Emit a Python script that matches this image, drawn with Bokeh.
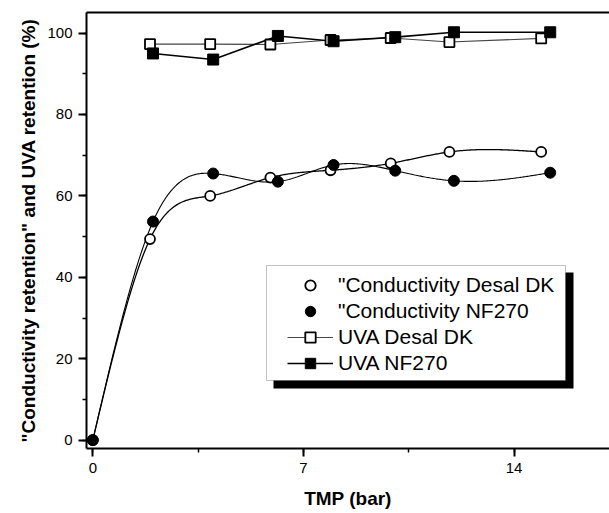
import numpy as np
from bokeh.plotting import figure
from bokeh.models import (Range1d, LinearAxis, SingleIntervalTicker, FixedTicker,
                          Legend, LegendItem, BoxAnnotation)
from bokeh.embed import file_html
from bokeh.resources import INLINE

# ---- data ----
tmp_cond_dk = [0, 1.9, 3.9, 5.9, 7.9, 9.9, 11.85, 14.9]
cond_dk = [0, 49.4, 60.0, 64.5, 66.3, 68.0, 70.8, 70.8]
tmp_cond_nf = [0, 2.0, 4.0, 6.15, 8.0, 10.05, 12.0, 15.2]
cond_nf = [0, 53.7, 65.5, 63.5, 67.6, 66.2, 63.7, 65.7]
tmp_uva_dk = [1.9, 3.9, 5.9, 7.9, 9.9, 11.85, 14.9]
uva_dk = [97.3, 97.3, 97.2, 98.3, 98.8, 97.8, 98.7]
tmp_uva_nf = [2.0, 4.0, 6.15, 8.0, 10.05, 12.0, 15.2]
uva_nf = [95.0, 93.5, 99.3, 98.0, 99.0, 100.2, 100.2]

legend_labels = ['"Conductivity Desal DK', '"Conductivity NF270', "UVA Desal DK", "UVA NF270"]
x_title = "TMP (bar)"
y_title = '"Conductivity retention" and UVA retention (%)'

FONT = "Liberation Sans"


def natural_spline(x, y, n=400):
    """Smooth curve through the data points (natural cubic spline)."""
    x = np.asarray(x, float)
    y = np.asarray(y, float)
    k = len(x)
    h = np.diff(x)
    A = np.zeros((k, k))
    r = np.zeros(k)
    A[0, 0] = 1
    A[-1, -1] = 1
    for i in range(1, k - 1):
        A[i, i - 1] = h[i - 1]
        A[i, i] = 2 * (h[i - 1] + h[i])
        A[i, i + 1] = h[i]
        r[i] = 6 * ((y[i + 1] - y[i]) / h[i] - (y[i] - y[i - 1]) / h[i - 1])
    M = np.linalg.solve(A, r)
    xs = np.linspace(x[0], x[-1], n)
    idx = np.clip(np.searchsorted(x, xs) - 1, 0, k - 2)
    x0 = x[idx]
    x1 = x[idx + 1]
    hh = x1 - x0
    t0 = x1 - xs
    t1 = xs - x0
    ys = ((M[idx] * t0 ** 3 + M[idx + 1] * t1 ** 3) / (6 * hh)
          + (y[idx] / hh - M[idx] * hh / 6) * t0
          + (y[idx + 1] / hh - M[idx + 1] * hh / 6) * t1)
    return xs, ys


p = figure(frame_width=523, frame_height=436,
           x_range=Range1d(-0.21, 17.17), y_range=Range1d(-2.06, 105.06),
           output_backend="svg", toolbar_location=None,
           min_border_left=86, min_border_right=0, min_border_top=12, min_border_bottom=65)
p.outline_line_color = None
p.outline_line_alpha = 0
p.outline_line_width = 0
p.grid.visible = False
p.background_fill_color = "white"
p.border_fill_color = "white"

xa = p.below[0]
ya = p.left[0]
xa.ticker = SingleIntervalTicker(interval=7, num_minor_ticks=2)
ya.ticker = SingleIntervalTicker(interval=20, num_minor_ticks=2)
for ax in (xa, ya):
    ax.axis_line_width = 2
    ax.axis_line_color = "black"
    ax.major_tick_in = 0
    ax.major_tick_out = 8
    ax.minor_tick_in = 0
    ax.minor_tick_out = 4
    ax.major_tick_line_width = 2
    ax.minor_tick_line_width = 1.5
    ax.major_tick_line_color = "black"
    ax.minor_tick_line_color = "black"
    ax.major_label_text_font = FONT
    ax.major_label_text_font_size = "15px"
    ax.major_label_text_color = "black"
    ax.axis_label_text_font = FONT
    ax.axis_label_text_font_size = "19px"
    ax.axis_label_text_font_style = "bold"
    ax.axis_label_text_color = "black"
xa.axis_label = x_title
ya.axis_label = y_title
xa.major_label_standoff = 6
ya.major_label_standoff = 6
xa.axis_label_standoff = 12
ya.axis_label_standoff = 5

# top border line only (no right border in the reference)
top_axis = LinearAxis(ticker=FixedTicker(ticks=[]), axis_line_width=2,
                      major_tick_in=0, major_tick_out=0, minor_tick_in=0, minor_tick_out=0,
                      major_tick_line_color=None, minor_tick_line_color=None,
                      major_label_standoff=0, axis_label_standoff=0,
                      major_label_text_font_size="0px")
p.add_layout(top_axis, "above")

# curves
p.line(*natural_spline(tmp_cond_dk, cond_dk), line_color="black", line_width=1.3)
p.line(*natural_spline(tmp_cond_nf, cond_nf), line_color="black", line_width=1.1)
l_uva_dk = p.line(tmp_uva_dk, uva_dk, line_color="#444444", line_width=1.1)
l_uva_nf = p.line(tmp_uva_nf, uva_nf, line_color="black", line_width=1.6)

# markers
s_cond_dk = p.scatter(tmp_cond_dk, cond_dk, marker="circle", size=10,
                      fill_color="white", line_color="black", line_width=1.8)
s_uva_dk = p.scatter(tmp_uva_dk, uva_dk, marker="square", size=10,
                     fill_color="white", line_color="black", line_width=1.8)
s_cond_nf = p.scatter(tmp_cond_nf, cond_nf, marker="circle", size=11,
                      fill_color="black", line_color="black", line_width=1)
s_uva_nf = p.scatter(tmp_uva_nf, uva_nf, marker="square", size=11,
                     fill_color="black", line_color="black", line_width=1)

# legend box with drop shadow (screen units, relative to the plot frame)
shadow = BoxAnnotation(left=187, right=487, bottom=60, top=176,
                       left_units="screen", right_units="screen",
                       top_units="screen", bottom_units="screen",
                       fill_color="black", fill_alpha=1, line_color=None, level="underlay")
box = BoxAnnotation(left=180, right=479, bottom=68, top=183,
                    left_units="screen", right_units="screen",
                    top_units="screen", bottom_units="screen",
                    fill_color="white", fill_alpha=1, line_color="#333333",
                    line_width=1, level="underlay")
p.add_layout(shadow)
p.add_layout(box)

legend = Legend(items=[
    LegendItem(label=legend_labels[0], renderers=[s_cond_dk]),
    LegendItem(label=legend_labels[1], renderers=[s_cond_nf]),
    LegendItem(label=legend_labels[2], renderers=[l_uva_dk, s_uva_dk]),
    LegendItem(label=legend_labels[3], renderers=[l_uva_nf, s_uva_nf]),
], location=(201, 72), glyph_width=46, glyph_height=26, label_height=26,
    spacing=0, padding=0, margin=0, label_standoff=5,
    background_fill_alpha=0, border_line_color=None,
    label_text_font=FONT, label_text_font_size="21px", label_text_color="black")
p.add_layout(legend)

open("out.html", "w").write(file_html(p, INLINE))
